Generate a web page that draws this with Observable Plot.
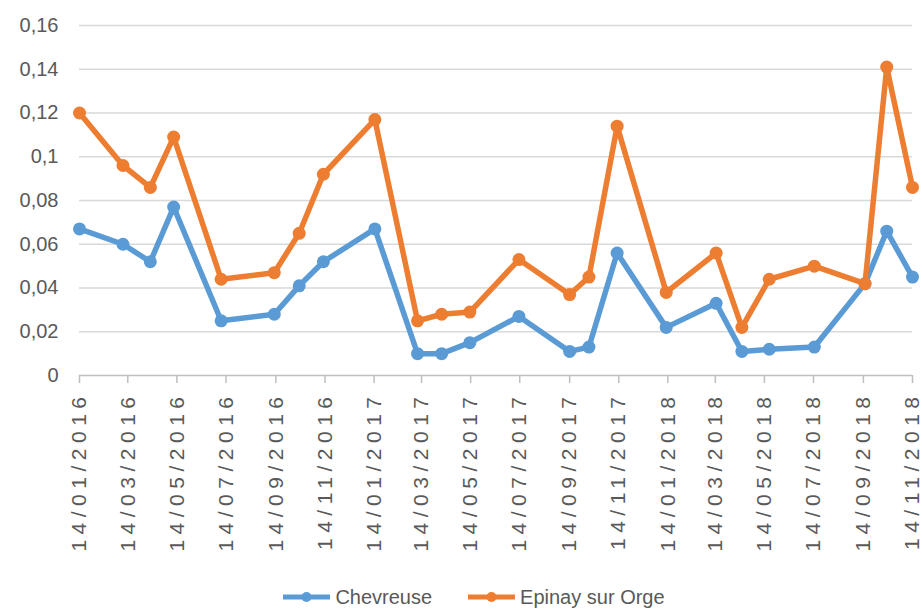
<!DOCTYPE html>
<html>
<head>
<meta charset="utf-8">
<script src="https://cdn.jsdelivr.net/npm/d3@7"></script>
<script src="https://cdn.jsdelivr.net/npm/@observablehq/plot@0.6"></script>
<style>
  body { margin: 0; background: #fff; font-family: "Liberation Sans", Arial, sans-serif; }
  #chart svg g[aria-label="x-axis tick label"] text { letter-spacing: 5.5px; }
  .legend { display: flex; justify-content: center; align-items: center; gap: 36px; margin-top: 10px; line-height: 24px; font-size: 20px; color: #595959; padding-left: 26px; }
  .legend .item { display: flex; align-items: center; gap: 5px; }
</style>
</head>
<body>
<div id="chart"></div>
<script>
const dates = ["2016-01-14","2016-03-08","2016-04-11","2016-05-10","2016-07-08","2016-09-12","2016-10-13","2016-11-12",
  "2017-01-15","2017-03-09","2017-04-08","2017-05-13","2017-07-13","2017-09-14","2017-10-08","2017-11-12",
  "2018-01-12","2018-03-15","2018-04-16","2018-05-20","2018-07-15","2018-09-16","2018-10-13","2018-11-14"];
const chevreuse = [0.067,0.060,0.052,0.077,0.025,0.028,0.041,0.052,0.067,0.010,0.010,0.015,0.027,0.011,0.013,0.056,0.022,0.033,0.011,0.012,0.013,0.042,0.066,0.045];
const epinay = [0.120,0.096,0.086,0.109,0.044,0.047,0.065,0.092,0.117,0.025,0.028,0.029,0.053,0.037,0.045,0.114,0.038,0.056,0.022,0.044,0.050,0.042,0.141,0.086];
const seriesNames = ["Chevreuse", "Epinay sur Orge"];
const colors = ["#5B9BD5", "#ED7D31"];
const xTickLabels = ["14/01/2016","14/03/2016","14/05/2016","14/07/2016","14/09/2016","14/11/2016","14/01/2017","14/03/2017","14/05/2017","14/07/2017","14/09/2017","14/11/2017","14/01/2018","14/03/2018","14/05/2018","14/07/2018","14/09/2018","14/11/2018"];
const yTicks = [0,0.02,0.04,0.06,0.08,0.1,0.12,0.14,0.16];

const parseD = d3.utcParse("%Y-%m-%d");
const parseL = d3.utcParse("%d/%m/%Y");
const fmtL = d3.utcFormat("%d/%m/%Y");
const xTicks = xTickLabels.map(parseL);

const rows = [];
[chevreuse, epinay].forEach((vals, s) => {
  vals.forEach((v, i) => rows.push({date: parseD(dates[i]), value: v, series: seriesNames[s]}));
});

const yFmt = d => String(+d.toFixed(2)).replace(".", ",");

const chart = Plot.plot({
  width: 922,
  height: 575,
  marginLeft: 79,
  marginRight: 10,
  marginTop: 25,
  marginBottom: 200,
  style: {fontFamily: "Liberation Sans, Arial, sans-serif", color: "#595959", background: "#fff"},
  x: {type: "utc", domain: [xTicks[0], xTicks[xTicks.length - 1]], label: null},
  y: {domain: [0, 0.16], label: null},
  color: {domain: seriesNames, range: colors},
  marks: [
    Plot.gridY(yTicks.filter(d => d > 0), {stroke: "#d9d9d9", strokeOpacity: 1, strokeWidth: 1.5}),
    Plot.ruleY([0], {stroke: "#bfbfbf", strokeWidth: 1.5}),
    Plot.axisY(yTicks, {tickSize: 0, tickPadding: 21, tickFormat: yFmt, fontSize: 20, fill: "#595959", label: null}),
    Plot.axisX(xTicks, {tickSize: 8, tickPadding: 8, tickRotate: -90, tickFormat: fmtL, fontSize: 21, fill: "#595959", stroke: "#bfbfbf", strokeWidth: 1.5, label: null}),
    ...seriesNames.map((name, s) => [
      Plot.line(rows.filter(r => r.series === name), {x: "date", y: "value", stroke: colors[s], strokeWidth: 5.5, strokeLinejoin: "round"}),
      Plot.dot(rows.filter(r => r.series === name), {x: "date", y: "value", fill: colors[s], r: 6.5})
    ]).flat()
  ]
});
document.getElementById("chart").appendChild(chart);

const legend = document.createElement("div");
legend.className = "legend";
seriesNames.forEach((name, s) => {
  const item = document.createElement("div");
  item.className = "item";
  item.innerHTML = `<svg width="47" height="14"><line x1="0" y1="7" x2="47" y2="7" stroke="${colors[s]}" stroke-width="5"/><circle cx="23.5" cy="7" r="5" fill="${colors[s]}"/></svg><span>${name}</span>`;
  legend.appendChild(item);
});
document.body.appendChild(legend);
</script>
</body>
</html>
